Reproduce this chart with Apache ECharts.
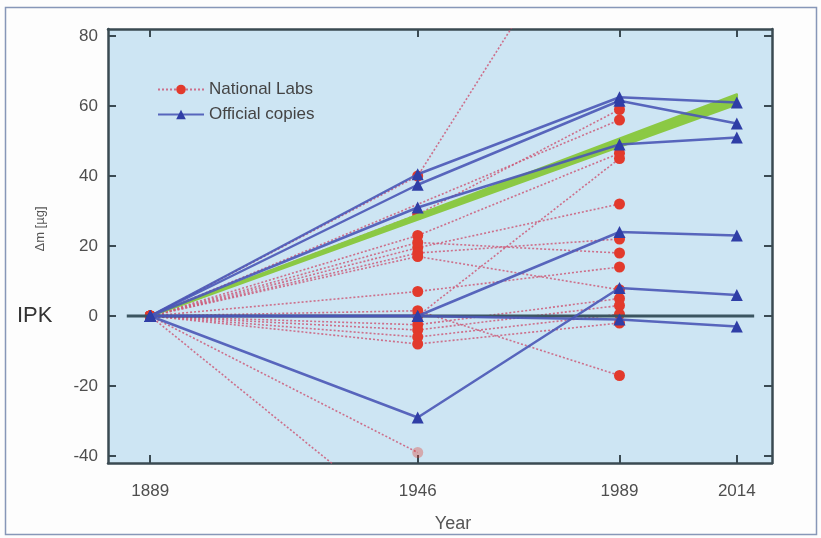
<!DOCTYPE html>
<html>
<head>
<meta charset="utf-8">
<script src="https://cdn.jsdelivr.net/npm/echarts@6/dist/echarts.min.js"></script>
<style>
html,body{margin:0;padding:0;background:#fdfdfd;}
#chart{width:821px;height:538px;}
</style>
</head>
<body>
<div id="chart"></div>
<script>
// ---- data ----
const labYears = [1889, 1946, 1989];
const copyYears = [1889, 1946, 1989, 2014];
const nationalLabs = [
  [0, 40, 131],
  [0, null, 56],
  [0, 29, 59],
  [0, 23, 46.5],
  [0, 0, 45],
  [0, 19.5, 32],
  [0, 18, 22],
  [0, 21, 18],
  [0, 7, 14],
  [0, 17, 7.5],
  [0, -2.5, 5],
  [0, -4, 3],
  [0, -6, 0.5],
  [0, -8, -2],
  [0, 1.5, -17],
  [0, -39, null],
  [0, -62, null]
];
const officialCopies = [
  [0, 40.5, 62.5, 61],
  [0, 37.5, 61.5, 55],
  [0, 31, 49, 51],
  [0, 0, 24, 23],
  [0, -29, 8, 6],
  [0, 0, -1, -3]
];
const trendYears = [1889, 2014];
const trendLow = [0, 60.5];
const trendHigh = [0, 63.3];
const ipkYears = [1884, 2017.7];
const ipkValues = [0, 0];
const xTicks = [1889, 1946, 1989, 2014];
const yTicks = [-40, -20, 0, 20, 40, 60, 80];

// ---- chart ----
const chart = echarts.init(document.getElementById('chart'), null, {renderer: 'canvas'});
const axisColor = '#3a4a52';
const labelColor = '#4e4e4e';
const font = 'Liberation Sans, Arial, sans-serif';

const series = [];
nationalLabs.forEach((vals) => {
  series.push({
    name: 'National Labs',
    type: 'line',
    data: labYears.map((y, i) => [y, vals[i]]),
    connectNulls: true,
    symbol: 'circle',
    symbolSize: 11,
    itemStyle: {color: '#e23a2c', opacity: vals[1] === -39 ? 0.35 : 1},
    lineStyle: {color: '#cc5a78', width: 1.6, type: [2, 2], opacity: 0.85},
    clip: true,
    z: 2
  });
});
series.push({
  name: 'trend', type: 'custom',
  data: trendYears.map((y, i) => [y, trendLow[i], trendHigh[i]]),
  renderItem: function (params, api) {
    if (params.dataIndex !== 0) return null;
    const pts = [];
    for (let i = 0; i < trendYears.length; i++) pts.push(api.coord([trendYears[i], trendLow[i]]));
    for (let i = trendYears.length - 1; i >= 0; i--) pts.push(api.coord([trendYears[i], trendHigh[i]]));
    return {
      type: 'polygon',
      shape: {points: pts},
      style: {fill: '#8bc944', stroke: '#8bc944', lineWidth: 2.5, lineJoin: 'round'}
    };
  },
  clip: true,
  z: 3
});
series.push({
  name: 'IPK', type: 'line',
  data: ipkYears.map((y, i) => [y, ipkValues[i]]),
  symbol: 'none',
  lineStyle: {color: '#3b5560', width: 3},
  z: 4
});
officialCopies.forEach((vals) => {
  series.push({
    name: 'Official copies',
    type: 'line',
    data: copyYears.map((y, i) => [y, vals[i]]),
    symbol: 'triangle',
    symbolSize: 12,
    itemStyle: {color: '#2f3ea6'},
    lineStyle: {color: '#4a56b6', width: 2.5, opacity: 0.9},
    clip: true,
    z: 5
  });
});

const xBase = {
  type: 'value', min: 1880, max: 2021.5,
  splitLine: {show: false},
  axisLine: {show: true, onZero: false, lineStyle: {color: axisColor, width: 2.5}},
  axisTick: {show: true, inside: true, length: 8, customValues: xTicks, lineStyle: {color: axisColor, width: 2}}
};
const yBase = {
  type: 'value', min: -42, max: 82,
  splitLine: {show: false},
  axisLine: {show: true, onZero: false, lineStyle: {color: axisColor, width: 2.5}},
  axisTick: {show: true, inside: true, length: 8, customValues: yTicks, lineStyle: {color: axisColor, width: 2}}
};

chart.setOption({
  animation: false,
  backgroundColor: '#fdfdfd',
  grid: {left: 108, right: 49, top: 29, bottom: 75, show: true, backgroundColor: '#cde5f3', borderWidth: 0},
  legend: {
    data: ['National Labs', 'Official copies'],
    orient: 'vertical', left: 152, top: 76,
    itemWidth: 46, itemHeight: 12, itemGap: 8,
    textStyle: {fontSize: 17, color: '#444', fontFamily: font},
    selectedMode: false
  },
  xAxis: [
    Object.assign({}, xBase, {position: 'bottom',
      axisLabel: {customValues: xTicks, fontSize: 17, color: labelColor, fontFamily: font, margin: 20, formatter: v => String(v)}}),
    Object.assign({}, xBase, {position: 'top', axisLabel: {show: false}})
  ],
  yAxis: [
    Object.assign({}, yBase, {position: 'left',
      axisLabel: {customValues: yTicks, fontSize: 17, color: labelColor, fontFamily: font, margin: 10, formatter: v => String(v)}}),
    Object.assign({}, yBase, {position: 'right', axisLabel: {show: false}})
  ],
  graphic: [
    {type: 'rect', shape: {x: 5.5, y: 7.5, width: 811, height: 527},
     style: {fill: 'none', stroke: '#8797b8', lineWidth: 1.5}, silent: true, z: -1},
    {type: 'text', left: 17, top: 305,
     style: {text: 'IPK', fontSize: 22, fill: '#333', fontFamily: font}},
    {type: 'text', x: 40, y: 229, rotation: Math.PI / 2,
     style: {text: 'Δm [µg]', fontSize: 13, fill: '#555', fontFamily: font, align: 'center', verticalAlign: 'middle'}},
    {type: 'text', x: 453, y: 524,
     style: {text: 'Year', fontSize: 18, fill: '#555', fontFamily: font, align: 'center', verticalAlign: 'middle'}}
  ],
  series: series
});
</script>
</body>
</html>
